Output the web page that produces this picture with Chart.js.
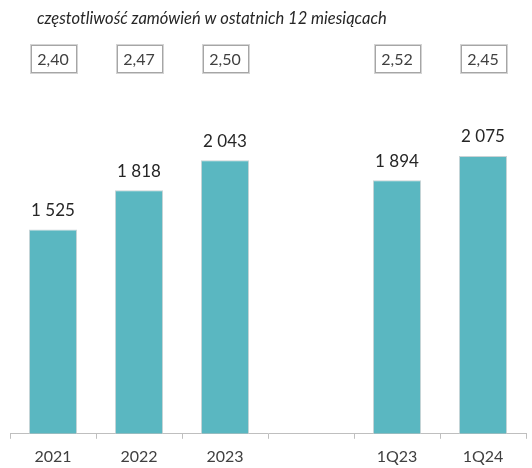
<!DOCTYPE html>
<html>
<head>
<meta charset="utf-8">
<script src="https://cdn.jsdelivr.net/npm/chart.js@4"></script>
<style>
  html, body { margin: 0; padding: 0; background: #fff; }
  #wrap { width: 532px; height: 468px; }
</style>
</head>
<body>
<div id="wrap"><canvas id="ordersChart" width="532" height="468"></canvas></div>
<script>
const categories = ['2021', '2022', '2023', '', '1Q23', '1Q24'];
const orders = [1525, 1818, 2043, null, 1894, 2075];
const frequency = ['2,40', '2,47', '2,50', null, '2,52', '2,45'];
const title = 'częstotliwość zamówień w ostatnich 12 miesiącach';

const FONT = 'Lato, "Liberation Sans", sans-serif';

const fmt = v => String(v).replace(/\B(?=(\d{3})+(?!\d))/g, ' ');

const ctx = document.getElementById('ordersChart');

new Chart(ctx, {
  type: 'bar',
  data: {
    labels: categories,
    datasets: [
      {
        data: orders,
        backgroundColor: '#5AB7C1',
        borderColor: '#C9D3D5',
        borderWidth: 1,
        borderSkipped: 'bottom',
        barPercentage: 0.56,
        categoryPercentage: 1,
      },
    ],
  },
  options: {
    responsive: false,
    animation: false,
    layout: {
      padding: { top: 99, left: 10, right: 6, bottom: -6 },
    },
    plugins: {
      legend: { display: false },
      tooltip: { enabled: false },
    },
    scales: {
      y: {
        display: false,
        min: 0,
        max: 2500,
      },
      x: {
        offset: true,
        border: { display: true, color: '#BFBFBF', width: 1 },
        grid: {
          offset: true,
          drawOnChartArea: false,
          drawTicks: true,
          tickLength: 5,
          color: '#BFBFBF',
        },
        ticks: {
          color: '#404040',
          padding: 8,
          font: { family: FONT, size: 16 },
        },
      },
    },
  },
  plugins: [
    {
      id: 'annotations',
      afterDatasetsDraw(chart) {
        const { ctx } = chart;
        const meta = chart.getDatasetMeta(0);
        ctx.save();
        // title
        ctx.font = 'italic 16.5px ' + FONT;
        ctx.fillStyle = '#262626';
        ctx.textBaseline = 'middle';
        ctx.textAlign = 'left';
        ctx.fillText(title, 37, 19);

        meta.data.forEach((bar, i) => {
          if (orders[i] == null) return;
          // value labels
          ctx.font = '17px ' + FONT;
          ctx.fillStyle = '#262626';
          ctx.textAlign = 'center';
          ctx.fillText(fmt(orders[i]), bar.x, bar.y - 19);

          // boxed frequency
          const w = 47, h = 29, top = 44;
          const left = Math.round(bar.x - w / 2) + 0.5;
          ctx.strokeStyle = '#D4D4D4';
          ctx.lineWidth = 1;
          ctx.strokeRect(left, top + 0.5, w, h);
          ctx.strokeStyle = '#A6A6A6';
          ctx.strokeRect(left + 1, top + 1.5, w - 2, h - 2);
          ctx.font = '16px ' + FONT;
          ctx.fillStyle = '#404040';
          ctx.fillText(frequency[i], bar.x, top + h / 2 + 1);
        });
        ctx.restore();
      },
    },
  ],
});
</script>
</body>
</html>
